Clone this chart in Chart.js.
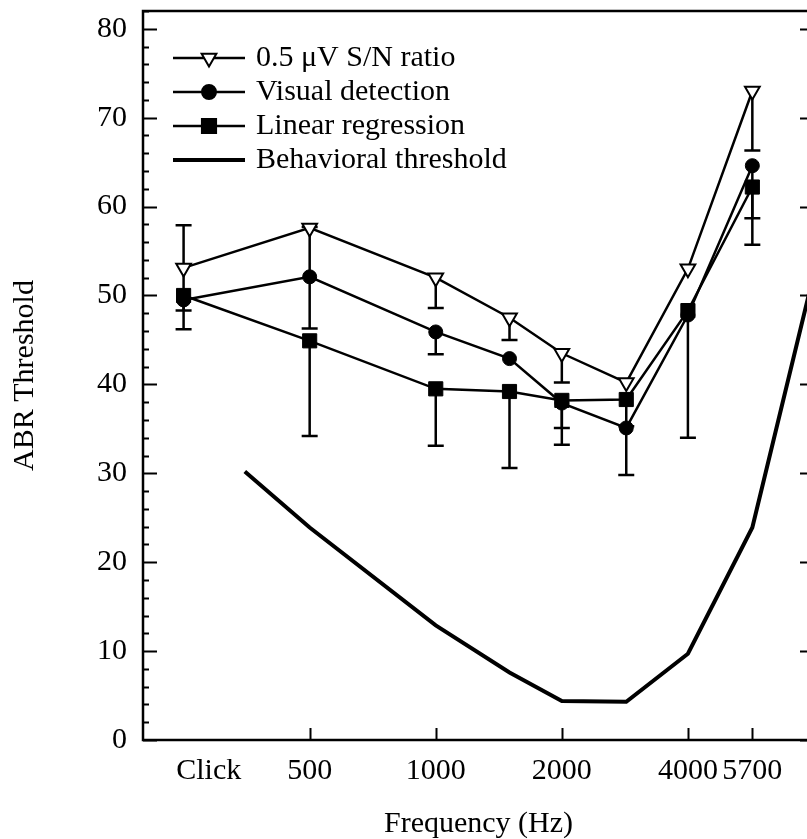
<!DOCTYPE html>
<html>
<head>
<meta charset="utf-8">
<title>ABR Threshold</title>
<script src="https://cdn.jsdelivr.net/npm/chart.js@4.4.0/dist/chart.umd.min.js"></script>
<style>
  html, body { margin: 0; padding: 0; background: #fff; overflow: hidden; }
  #wrap { width: 830px; height: 839px; }
</style>
</head>
<body>
<div id="wrap"><canvas id="abrChart" width="830" height="839"></canvas></div>
<script>
// frequencies in Hz; the click stimulus sits at the 250 Hz position
const freqs = [250, 500, 1000, 1500, 2000, 2850, 4000, 5700];
const snRatio    = [53.1, 57.6, 52.0, 47.5, 43.5, 40.2, 53.0, 73.0];
const visual     = [49.5, 52.1, 45.9, 42.9, 37.9, 35.1, 47.8, 64.6];
const regression = [50.0, 44.9, 39.5, 39.2, 38.2, 38.3, 48.3, 62.2];

// error bar ends (null = no bar drawn)
const snLow      = [48.3, null, 48.6, 45.0, 40.2, null, null, 66.3];
const snHigh     = [57.9, null, null, null, null, null, null, null];
const visualLow  = [46.2, 46.3, 43.4, null, 35.1, 29.8, 34.0, 58.7];
const visualHigh = [null, 57.7, null, null, null, null, null, null];
const regLow     = [null, 34.2, 33.1, 30.6, 33.2, 35.3, null, 55.7];

const behavFreqs = [350, 500, 1000, 1500, 2000, 2850, 4000, 5700, 8000];
const behavioral = [30.2, 23.9, 12.9, 7.6, 4.4, 4.3, 9.7, 23.9, 52.5];

// "Click" label sits a bit right of its points, as in the figure
const xTicks = [287, 500, 1000, 2000, 4000, 5700];
const xLabels = ["Click", "500", "1000", "2000", "4000", "5700"];
const yTicks = [0, 10, 20, 30, 40, 50, 60, 70, 80];

const FONT = "Liberation Serif";
const FSIZE = 30;

const pts = (xs, ys) => xs.map((x, i) => ({ x: x, y: ys[i] }));

const errors = [
  { low: snLow, high: snHigh },
  { low: visualLow, high: visualHigh },
  { low: regLow, high: [] },
  null
];

const errorBars = {
  id: "errorBars",
  beforeDatasetsDraw(chart) {
    const { ctx, scales: { x, y } } = chart;
    ctx.save();
    ctx.strokeStyle = "#000";
    ctx.lineWidth = 2.5;
    errors.forEach((e, d) => {
      if (!e) return;
      const data = chart.data.datasets[d].data;
      data.forEach((p, i) => {
        const px = x.getPixelForValue(p.x);
        const py = y.getPixelForValue(p.y);
        [e.low[i], e.high[i]].forEach(end => {
          if (end == null) return;
          const ey = y.getPixelForValue(end);
          ctx.beginPath();
          ctx.moveTo(px, py);
          ctx.lineTo(px, ey);
          ctx.moveTo(px - 8, ey);
          ctx.lineTo(px + 8, ey);
          ctx.stroke();
        });
      });
    });
    ctx.restore();
  }
};

const frame = {
  id: "frame",
  afterDatasetsDraw(chart) {
    const { ctx, chartArea: a, scales: { x, y } } = chart;
    ctx.save();
    ctx.strokeStyle = "#000";
    ctx.lineWidth = 2.5;
    ctx.strokeRect(a.left, a.top, a.right - a.left, a.bottom - a.top);
    ctx.lineWidth = 2;
    ctx.beginPath();
    for (let v = 0; v <= 82; v += 2) {
      const py = Math.round(y.getPixelForValue(v)) + 0.5;
      const len = v % 10 === 0 ? 14 : 6;
      ctx.moveTo(a.left, py); ctx.lineTo(a.left + len, py);
      ctx.moveTo(a.right, py); ctx.lineTo(a.right - len, py);
    }
    xTicks.slice(1).forEach(v => {
      const px = Math.round(x.getPixelForValue(v)) + 0.5;
      ctx.moveTo(px, a.bottom); ctx.lineTo(px, a.bottom - 12);
    });
    ctx.stroke();
    ctx.restore();
  }
};

const legendBox = {
  id: "legendBox",
  afterDraw(chart) {
    const { ctx } = chart;
    ctx.save();
    chart.data.datasets.forEach((ds, i) => {
      const ly = 58 + i * 34;
      ctx.strokeStyle = "#000";
      ctx.lineWidth = ds.borderWidth;
      ctx.beginPath();
      ctx.moveTo(173, ly); ctx.lineTo(245, ly);
      ctx.stroke();
      if (ds.pointRadius > 0) {
        ctx.fillStyle = ds.pointBackgroundColor;
        ctx.lineWidth = 2;
        Chart.helpers.drawPoint(ctx, {
          pointStyle: ds.pointStyle, radius: ds.pointRadius,
          rotation: ds.pointRotation || 0, borderWidth: 2
        }, 209, ly);
      }
      ctx.fillStyle = "#000";
      ctx.font = FSIZE + "px '" + FONT + "'";
      ctx.textBaseline = "middle";
      ctx.fillText(ds.label, 256, ly);
    });
    ctx.restore();
  }
};

new Chart(document.getElementById("abrChart"), {
  type: "line",
  data: {
    datasets: [
      {
        label: "0.5 \u03bcV S/N ratio",
        data: pts(freqs, snRatio),
        borderColor: "#000", borderWidth: 2.5,
        pointStyle: "triangle", pointRotation: 180, pointRadius: 8.5,
        pointBackgroundColor: "#fff", pointBorderColor: "#000", pointBorderWidth: 2
      },
      {
        label: "Visual detection",
        data: pts(freqs, visual),
        borderColor: "#000", borderWidth: 2.5,
        pointStyle: "circle", pointRadius: 7,
        pointBackgroundColor: "#000", pointBorderColor: "#000", pointBorderWidth: 1
      },
      {
        label: "Linear regression",
        data: pts(freqs, regression),
        borderColor: "#000", borderWidth: 2.5,
        pointStyle: "rect", pointRadius: 10,
        pointBackgroundColor: "#000", pointBorderColor: "#000", pointBorderWidth: 1
      },
      {
        label: "Behavioral threshold",
        data: pts(behavFreqs, behavioral),
        borderColor: "#000", borderWidth: 4,
        pointRadius: 0
      }
    ]
  },
  options: {
    responsive: false,
    animation: false,
    layout: { padding: { top: 9, right: 16, left: 0, bottom: 0 } },
    plugins: { legend: { display: false }, tooltip: { enabled: false } },
    scales: {
      x: {
        type: "logarithmic",
        min: 200, max: 8000,
        grid: { display: false, drawTicks: false },
        border: { display: false },
        afterBuildTicks: s => { s.ticks = xTicks.map(v => ({ value: v })); },
        afterFit: s => { s.height = 99; s.paddingLeft = 0; s.paddingRight = 0; },
        ticks: {
          autoSkip: false, maxRotation: 0, padding: 13,
          color: "#000", font: { family: FONT, size: FSIZE },
          callback: (v, i) => xLabels[i]
        },
        title: {
          display: true, text: "Frequency (Hz)", color: "#000",
          font: { family: FONT, size: FSIZE }, padding: { top: 0, bottom: -3 }
        }
      },
      y: {
        min: 0, max: 82,
        grid: { display: false, drawTicks: false },
        border: { display: false },
        afterBuildTicks: s => { s.ticks = yTicks.map(v => ({ value: v })); },
        afterFit: s => { s.width = 143; s.paddingTop = 0; s.paddingBottom = 0; },
        ticks: {
          padding: 16, color: "#000", font: { family: FONT, size: FSIZE }
        },
        title: {
          display: true, text: "ABR Threshold", color: "#000",
          font: { family: FONT, size: FSIZE }, padding: { top: 7, bottom: 0 }
        }
      }
    }
  },
  plugins: [errorBars, frame, legendBox]
});
</script>
</body>
</html>
